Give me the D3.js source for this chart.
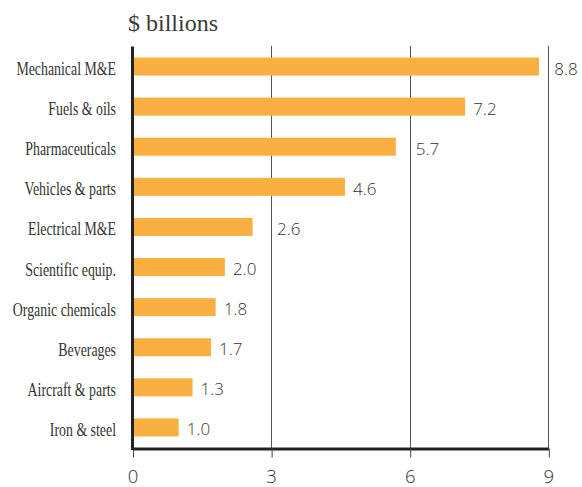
<!DOCTYPE html>
<html>
<head>
<meta charset="utf-8">
<script src="https://cdn.jsdelivr.net/npm/d3@7"></script>
<style>
  body { margin: 0; background: #fff; }
  svg { display: block; }
</style>
</head>
<body>
<svg id="chart"></svg>
<script>
const categories = [
  "Mechanical M&E", "Fuels & oils", "Pharmaceuticals", "Vehicles & parts",
  "Electrical M&E", "Scientific equip.", "Organic chemicals", "Beverages",
  "Aircraft & parts", "Iron & steel"
];
const values = [8.8, 7.2, 5.7, 4.6, 2.6, 2.0, 1.8, 1.7, 1.3, 1.0];
const xTicks = [0, 3, 6, 9];
const unitLabel = "$ billions";

const width = 582, height = 487;
const ink = "#333";
const barColor = "#fab041";

const svg = d3.select("#chart").attr("width", width).attr("height", height);

const x = d3.scaleLinear().domain([0, 9]).range([132.5, 548.3]);
const y = d3.scaleBand()
  .domain(categories)
  .range([46.5, 447.5])
  .paddingInner(0.55)
  .paddingOuter(0.275);

const axisY = 448.5;

// title
svg.append("text")
  .attr("x", 128)
  .attr("y", 31)
  .attr("fill", "#3a3a3a")
  .style("font-family", "'Liberation Serif', serif")
  .style("font-size", "24px")
  .text(unitLabel);

// gridlines (3, 6, 9)
svg.append("g")
  .selectAll("line")
  .data(xTicks.filter(d => d > 0))
  .enter()
  .append("line")
  .attr("x1", d => Math.round(x(d)) + 0.5)
  .attr("x2", d => Math.round(x(d)) + 0.5)
  .attr("y1", 46)
  .attr("y2", axisY)
  .attr("stroke", "#555")
  .attr("stroke-width", 1);

// bars
svg.append("g")
  .selectAll("rect")
  .data(values)
  .enter()
  .append("rect")
  .attr("x", x(0))
  .attr("y", (d, i) => y(categories[i]))
  .attr("width", d => x(d) - x(0))
  .attr("height", y.bandwidth())
  .attr("fill", barColor);

// bottom axis
const xAxis = d3.axisBottom(x).tickValues(xTicks).tickSize(9).tickPadding(12).tickSizeOuter(0);
const gx = svg.append("g")
  .attr("transform", "translate(0," + axisY + ")")
  .call(xAxis);
gx.select(".domain").attr("stroke", "#222").attr("stroke-width", 3);
gx.selectAll(".tick line").attr("stroke", "#444").attr("stroke-width", 1)
  .attr("transform", "translate(0.5,0)");
gx.selectAll(".tick text")
  .attr("fill", ink)
  .style("font-family", "'Open Sans', sans-serif")
  .style("font-weight", 300)
  .style("font-size", "18.5px");

// left axis line
svg.append("line")
  .attr("x1", x(0))
  .attr("x2", x(0))
  .attr("y1", 46.5)
  .attr("y2", axisY + 1.5)
  .attr("stroke", "#222")
  .attr("stroke-width", 3);

// category labels
svg.append("g")
  .selectAll("text")
  .data(categories)
  .enter()
  .append("text")
  .attr("transform", d => "translate(116," + (y(d) + y.bandwidth() / 2 + 8.5) + ") scale(0.77,1)")
  .attr("text-anchor", "end")
  .attr("fill", ink)
  .style("font-family", "'Liberation Serif', serif")
  .style("font-size", "18px")
  .text(d => d);

// value labels, nudged right of any gridline they would cross
const gridX = xTicks.filter(d => d > 0).map(d => x(d));
svg.append("g")
  .selectAll("text")
  .data(values)
  .enter()
  .append("text")
  .attr("y", (d, i) => y(categories[i]) + y.bandwidth() / 2 + 8)
  .attr("fill", ink)
  .style("font-family", "'Open Sans', sans-serif")
  .style("font-weight", 300)
  .style("font-size", "17px")
  .text(d => d.toFixed(1))
  .each(function(d) {
    const w = this.getComputedTextLength();
    let lx = x(d) + 8;
    gridX.forEach(g => {
      if (lx - 3 < g && lx + w + 2 > g) lx = g + 6;
    });
    d3.select(this).attr("x", lx);
  });
</script>
</body>
</html>
